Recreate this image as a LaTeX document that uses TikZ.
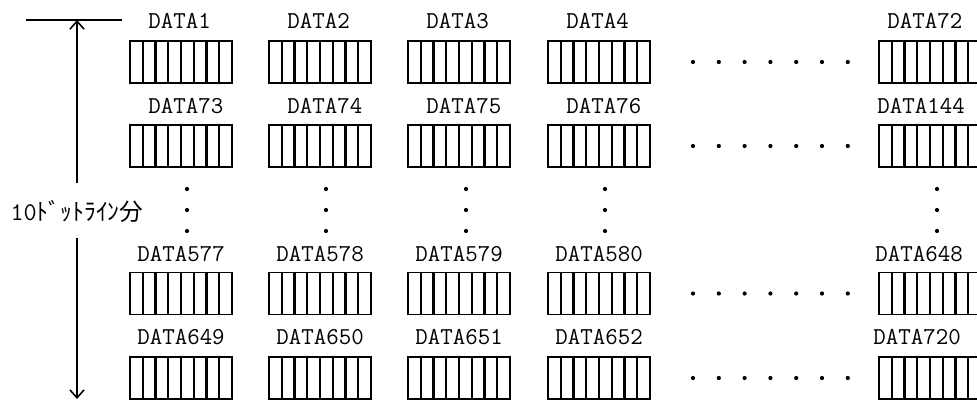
\documentclass[tikz,border=0pt]{standalone}
\usepackage{fontspec}
\newfontfamily\jpfont{Noto Sans CJK JP}
\usetikzlibrary{arrows.meta}

\tikzset{
  regbox/.style={draw, line width=1.1pt, inner sep=0pt, outer sep=0pt,
    minimum width=2.04cm, minimum height=0.84cm,
    path picture={
      \foreach \k in {1,...,7}
        \draw[line width=1.3pt]
          ([xshift=\k*0.255cm]path picture bounding box.north west) --
          ([xshift=\k*0.255cm]path picture bounding box.south west);
    }},
  reglabel/.style={anchor=west, inner sep=0pt,
    font=\fontsize{13.8pt}{16pt}\selectfont\ttfamily},
  spanlabel/.style={inner sep=0pt, font=\fontsize{13.5pt}{16pt}\selectfont},
  spanline/.style={line width=0.9pt},
  spantip/.style={-{Straight Barb[length=4.5pt,width=8pt]}}
}

\begin{document}
\begin{tikzpicture}[x=0.02cm,y=-0.02cm]
\clip (0,0) rectangle (977,400);

% Span of the ten dot lines
\coordinate (topL) at (26,20);
\coordinate (topR) at (122,20);
\coordinate (top) at (77,20);
\coordinate (gapT) at (77,183);
\coordinate (gapB) at (77,238);
\coordinate (bot) at (77,399);
\draw[spanline] (topL) -- (topR);
\draw[spanline,spantip] (gapT) -- (top);
\draw[spanline,spantip] (gapB) -- (bot);
\node[spanlabel] (span) at (77,211) {{\fontsize{14.5pt}{16pt}\selectfont\ttfamily 10}{\jpfont ﾄﾞｯﾄﾗｲﾝ分}};

% Data registers, one row per dot line
\foreach \r/\yc/\yl/\n/\m/\dx/\dxl in {1/62/21/1/72/18/8, 2/146/106/73/144/18/-2,
    3/293.5/254/577/648/7/-4, 4/378/337/649/720/7/-6} {
  \foreach \c/\xl in {1/130,2/269,3/408,4/548} {
    \pgfmathtruncatemacro{\num}{\n+\c-1}
    \node[regbox] (reg-\r-\c) at (\xl+51,\yc) {};
    \node[reglabel] (lab-\r-\c) at (\xl+\dx,\yl) {DATA\num};
  }
  \node[regbox] (reg-\r-5) at (930,\yc) {};
  \node[reglabel] (lab-\r-5) at (879+\dxl,\yl) {DATA\m};
  % skipped registers
  \foreach \k in {0,...,6}
    \fill (693+\k*25.8,\yc) circle (1.2pt);
}

% Skipped dot lines
\foreach \xd in {187,326,466,605,937}
  \foreach \yd in {189,210,231}
    \fill (\xd,\yd) circle (1.2pt);
\end{tikzpicture}
\end{document}
